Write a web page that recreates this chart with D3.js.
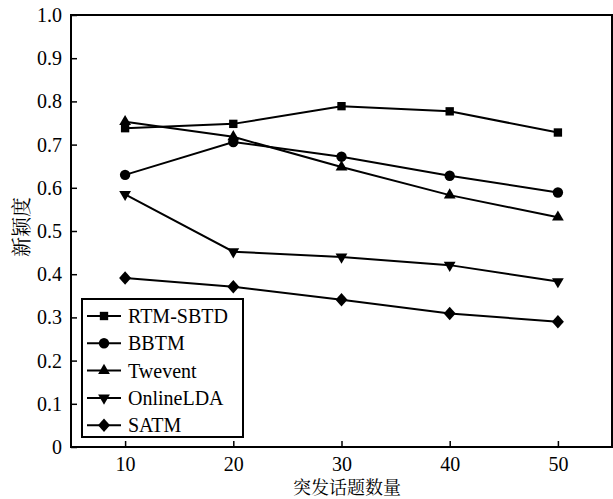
<!DOCTYPE html>
<html>
<head>
<meta charset="utf-8">
<script src="https://cdn.jsdelivr.net/npm/d3@7"></script>
<style>
  body { margin: 0; background: #fff; }
  text { font-family: "Liberation Serif", "DejaVu Serif", serif; fill: #000; }
  .cjk { font-family: "Noto Serif CJK SC", "Noto Sans CJK SC", sans-serif; }
</style>
</head>
<body>
<svg width="613" height="499"></svg>
<script>
var topics = [10, 20, 30, 40, 50]
var rtmSbtd = [0.738, 0.748, 0.789, 0.777, 0.728]
var bbtm = [0.630, 0.706, 0.672, 0.628, 0.589]
var twevent = [0.753, 0.718, 0.648, 0.583, 0.532]
var onlineLda = [0.585, 0.452, 0.440, 0.421, 0.383]
var satm = [0.391, 0.371, 0.341, 0.309, 0.290]
var yTicks = [0, 0.1, 0.2, 0.3, 0.4, 0.5, 0.6, 0.7, 0.8, 0.9, 1.0]

var series = [
  {name: "RTM-SBTD", values: rtmSbtd, symbol: d3.symbolSquare, size: 70},
  {name: "BBTM", values: bbtm, symbol: d3.symbolCircle, size: 85},
  {name: "Twevent", values: twevent, symbol: d3.symbolTriangle, size: 60},
  {name: "OnlineLDA", values: onlineLda, symbol: d3.symbolTriangle, size: 60, flip: true},
  {name: "SATM", values: satm, symbol: d3.symbolSquare, size: 72, diamond: true}
]

var plotLeft = 71, plotRight = 612, plotTop = 15, plotBottom = 447

var x = d3.scaleLinear().domain([5, 55]).range([plotLeft, plotRight])
var y = d3.scaleLinear().domain([0, 1]).range([plotBottom, plotTop])

var svg = d3.select("svg")

// frame
svg.append("rect")
  .attr("x", plotLeft).attr("y", plotTop)
  .attr("width", plotRight - plotLeft).attr("height", plotBottom - plotTop)
  .attr("fill", "none").attr("stroke", "#000").attr("stroke-width", 2)

var xAxis = d3.axisBottom(x).tickValues(topics).tickSizeInner(-6).tickSizeOuter(0).tickPadding(10)
var gx = svg.append("g").attr("transform", "translate(0," + plotBottom + ")").call(xAxis)
gx.select(".domain").remove()
gx.selectAll("line").attr("stroke-width", 1.5)
gx.selectAll("text").attr("font-size", 20).style("font-family", "Liberation Serif")

var yAxis = d3.axisLeft(y).tickValues(yTicks).tickSizeInner(-6).tickSizeOuter(0).tickPadding(9)
  .tickFormat(d => d === 0 ? "0" : d3.format(".1f")(d))
var gy = svg.append("g").attr("transform", "translate(" + plotLeft + ",0)").call(yAxis)
gy.select(".domain").remove()
gy.selectAll("line").attr("stroke-width", 1.5)
gy.selectAll("text").attr("font-size", 20).style("font-family", "Liberation Serif")

var line = d3.line()
  .x((d, i) => x(topics[i]))
  .y(d => y(d))

function markTransform(s, px, py) {
  return "translate(" + px + "," + py + ")" + (s.flip ? " rotate(180)" : "") +
    (s.diamond ? " scale(1,1.12) rotate(45)" : "")
}

series.forEach(function (s) {
  svg.append("path")
    .datum(s.values)
    .attr("d", line)
    .attr("fill", "none")
    .attr("stroke", "#000")
    .attr("stroke-width", 2)

  svg.selectAll(null)
    .data(s.values)
    .enter()
    .append("path")
    .attr("d", d3.symbol().type(s.symbol).size(s.size))
    .attr("transform", (d, i) => markTransform(s, x(topics[i]), y(d)))
    .attr("fill", "#000")
})

// legend
var legend = svg.append("g")
legend.append("rect")
  .attr("x", 82).attr("y", 299)
  .attr("width", 161).attr("height", 138)
  .attr("fill", "#fff").attr("stroke", "#000").attr("stroke-width", 2)

series.forEach(function (s, i) {
  var ly = 316 + i * 27.3
  legend.append("line")
    .attr("x1", 87).attr("x2", 121).attr("y1", ly).attr("y2", ly)
    .attr("stroke", "#000").attr("stroke-width", 2)
  legend.append("path")
    .attr("d", d3.symbol().type(s.symbol).size(s.size)())
    .attr("transform", markTransform(s, 104, ly))
    .attr("fill", "#000")
  legend.append("text")
    .attr("x", 128).attr("y", ly).attr("dy", "0.35em")
    .attr("font-size", 20)
    .text(s.name)
})

// axis titles
svg.append("text")
  .attr("class", "cjk")
  .attr("x", 347).attr("y", 494)
  .attr("text-anchor", "middle")
  .attr("font-size", 18)
  .text("突发话题数量")

svg.append("text")
  .attr("class", "cjk")
  .attr("transform", "translate(29,227) rotate(-90)")
  .attr("text-anchor", "middle")
  .attr("font-size", 20)
  .text("新颖度")
</script>
</body>
</html>
